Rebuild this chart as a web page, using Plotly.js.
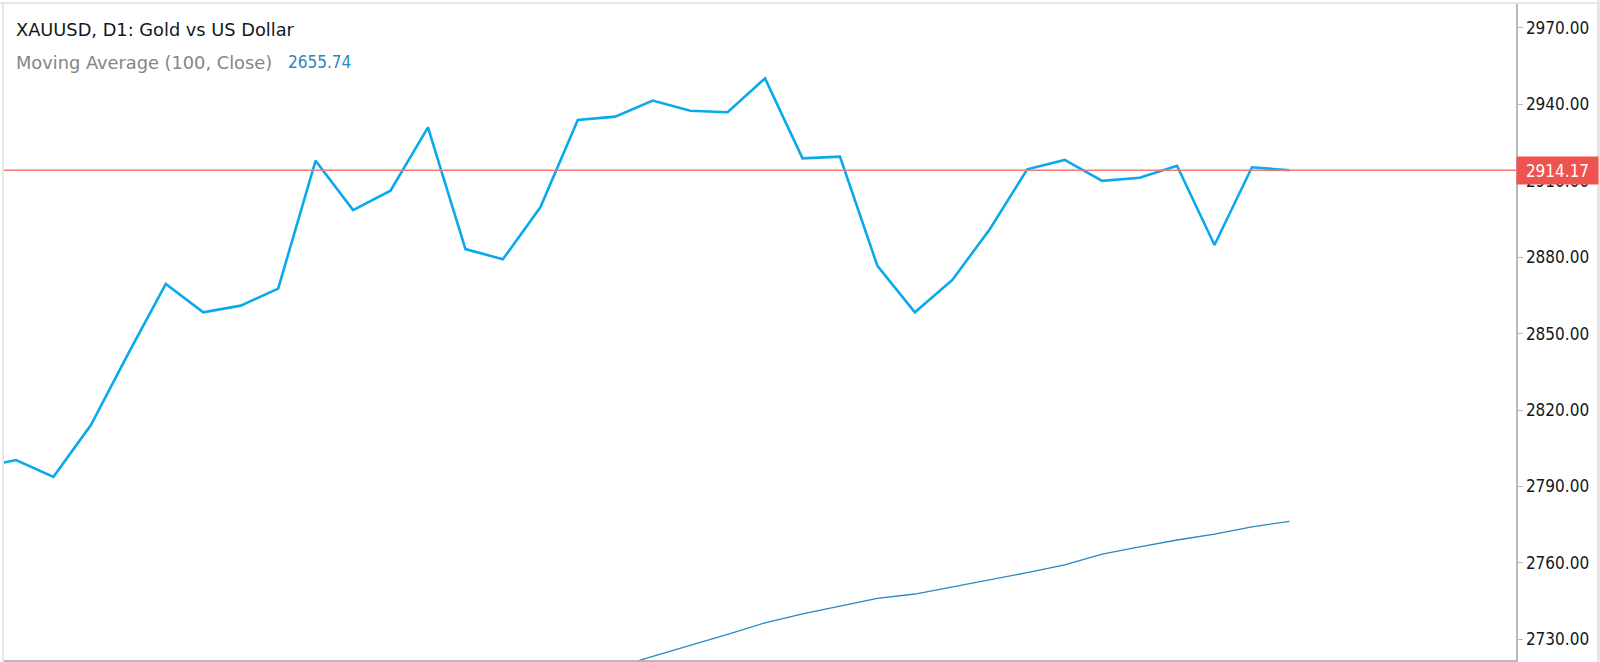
<!DOCTYPE html>
<html>
<head>
<meta charset="utf-8">
<script src="https://cdn.plot.ly/plotly-3.0.1.min.js"></script>
<style>
  html, body { margin: 0; padding: 0; background: #fff; }
  #chart { width: 1600px; height: 662px; }
</style>
</head>
<body>
<div id="chart"></div>
<script>
// daily bars, index 0 is the oldest visible bar
let bars = [0, 1, 2, 3, 4, 5, 6, 7, 8, 9, 10, 11, 12, 13, 14, 15, 16, 17,
  18, 19, 20, 21, 22, 23, 24, 25, 26, 27, 28, 29, 30, 31, 32, 33, 34, 35]
let closes = [2797.3, 2800.4, 2793.8, 2814.1, 2842.3, 2869.5, 2858.4, 2861.0,
  2867.7, 2917.9, 2898.5, 2906.1, 2931.0, 2883.2, 2879.2, 2899.6, 2933.9,
  2935.2, 2941.5, 2937.5, 2936.9, 2950.2, 2918.8, 2919.5, 2876.6, 2858.4,
  2871.1, 2891.0, 2914.5, 2918.2, 2910.0, 2911.2, 2915.9, 2884.8, 2915.3, 2914.17]

// 100 period moving average, only the visible part
let maBars = [17, 18, 19, 20, 21, 22, 23, 24, 25, 26, 27, 28, 29, 30, 31, 32, 33, 34, 35]
let maValues = [2719.0, 2723.2, 2727.6, 2732.0, 2736.5, 2740.0, 2743.1, 2746.1,
  2747.8, 2750.6, 2753.3, 2756.2, 2759.2, 2763.5, 2766.3, 2769.0, 2771.3, 2774.2, 2776.3]

// price scale and time scale marks
let priceTicks = [2730, 2760, 2790, 2820, 2850, 2880, 2910, 2940, 2970]
let timeTicks = [2, 6, 10, 14, 18, 22, 26, 30, 34, 35, 39]

let lastPrice = 2914.17
let maLabel = '2655.74'
let titleText = 'XAUUSD, D1: Gold vs US Dollar'
let maText = 'Moving Average (100, Close)'

let font = '"DejaVu Sans", sans-serif'
let scaleFont = '"DejaVu Sans Condensed", "DejaVu Sans", sans-serif'

var price = {
  x: bars,
  y: closes,
  mode: 'lines',
  type: 'scatter',
  line: {color: '#0aa9ec', width: 2.6},
  hoverinfo: 'skip'
}

var ma = {
  x: maBars,
  y: maValues,
  mode: 'lines',
  type: 'scatter',
  line: {color: '#2a87c0', width: 1.3},
  hoverinfo: 'skip'
}

// pixel helpers for the plot area (left 3, right 1516, top 3, bottom 660)
function px (x) { return (x - 3) / 1513 }
function py (y) { return 1 - (y - 3) / 657 }

var layout = {
  width: 1600,
  height: 662,
  margin: {l: 3, r: 84, t: 3, b: 2},
  paper_bgcolor: '#ffffff',
  plot_bgcolor: '#ffffff',
  showlegend: false,
  font: {family: font, color: '#131722'},
  xaxis: {
    range: [0.653, 41.05],
    showgrid: false,
    zeroline: false,
    showline: true,
    linecolor: '#b8b8b8',
    linewidth: 1.5,
    tickvals: timeTicks,
    ticks: 'outside',
    ticklen: 5,
    tickcolor: '#b8b8b8',
    showticklabels: false,
    fixedrange: true
  },
  yaxis: {
    side: 'right',
    range: [2721.9, 2979.8],
    showgrid: false,
    zeroline: false,
    showline: true,
    linecolor: '#b8b8b8',
    linewidth: 1.5,
    tickvals: priceTicks,
    tickformat: '.2f',
    ticks: 'outside',
    ticklen: 5,
    tickcolor: '#b8b8b8',
    tickfont: {family: scaleFont, size: 17, color: '#131722'},
    fixedrange: true
  },
  shapes: [
    // last price line
    {type: 'line', xref: 'paper', x0: 0, x1: 1, yref: 'y', y0: lastPrice, y1: lastPrice,
      line: {color: '#f07a7a', width: 1.6}},
    // frame round the pane
    {type: 'line', xref: 'paper', x0: px(0), x1: px(1600), yref: 'paper', y0: 1, y1: 1,
      line: {color: '#e6e6e6', width: 2}},
    {type: 'line', xref: 'paper', x0: 0, x1: 0, yref: 'paper', y0: py(662), y1: 1,
      line: {color: '#e6e6e6', width: 2}},
    {type: 'rect', xref: 'paper', x0: px(1597), x1: px(1600), yref: 'paper', y0: py(662), y1: py(0),
      fillcolor: '#e6e6e6', line: {width: 0}}
  ],
  annotations: [
    {xref: 'paper', yref: 'paper', x: px(14), y: py(29.5), xanchor: 'left', yanchor: 'middle',
      showarrow: false, text: titleText, font: {family: font, size: 17.8, color: '#131722'}},
    {xref: 'paper', yref: 'paper', x: px(14), y: py(62.5), xanchor: 'left', yanchor: 'middle',
      showarrow: false, text: maText, font: {family: font, size: 17.8, color: '#858585'}},
    {xref: 'paper', yref: 'paper', x: px(286), y: py(62.5), xanchor: 'left', yanchor: 'middle',
      showarrow: false, text: maLabel, font: {family: scaleFont, size: 17, color: '#2a87c0'}},
    // price label on the scale
    {xref: 'paper', yref: 'y', x: 1, y: lastPrice, xanchor: 'left', yanchor: 'middle',
      showarrow: false, text: lastPrice.toFixed(2), width: 75, height: 21, borderpad: 3,
      align: 'center', bgcolor: '#ef5350', font: {family: scaleFont, size: 17, color: '#ffffff'}}
  ]
}

Plotly.newPlot('chart', [ma, price], layout, {displayModeBar: false, staticPlot: true})
</script>
</body>
</html>
